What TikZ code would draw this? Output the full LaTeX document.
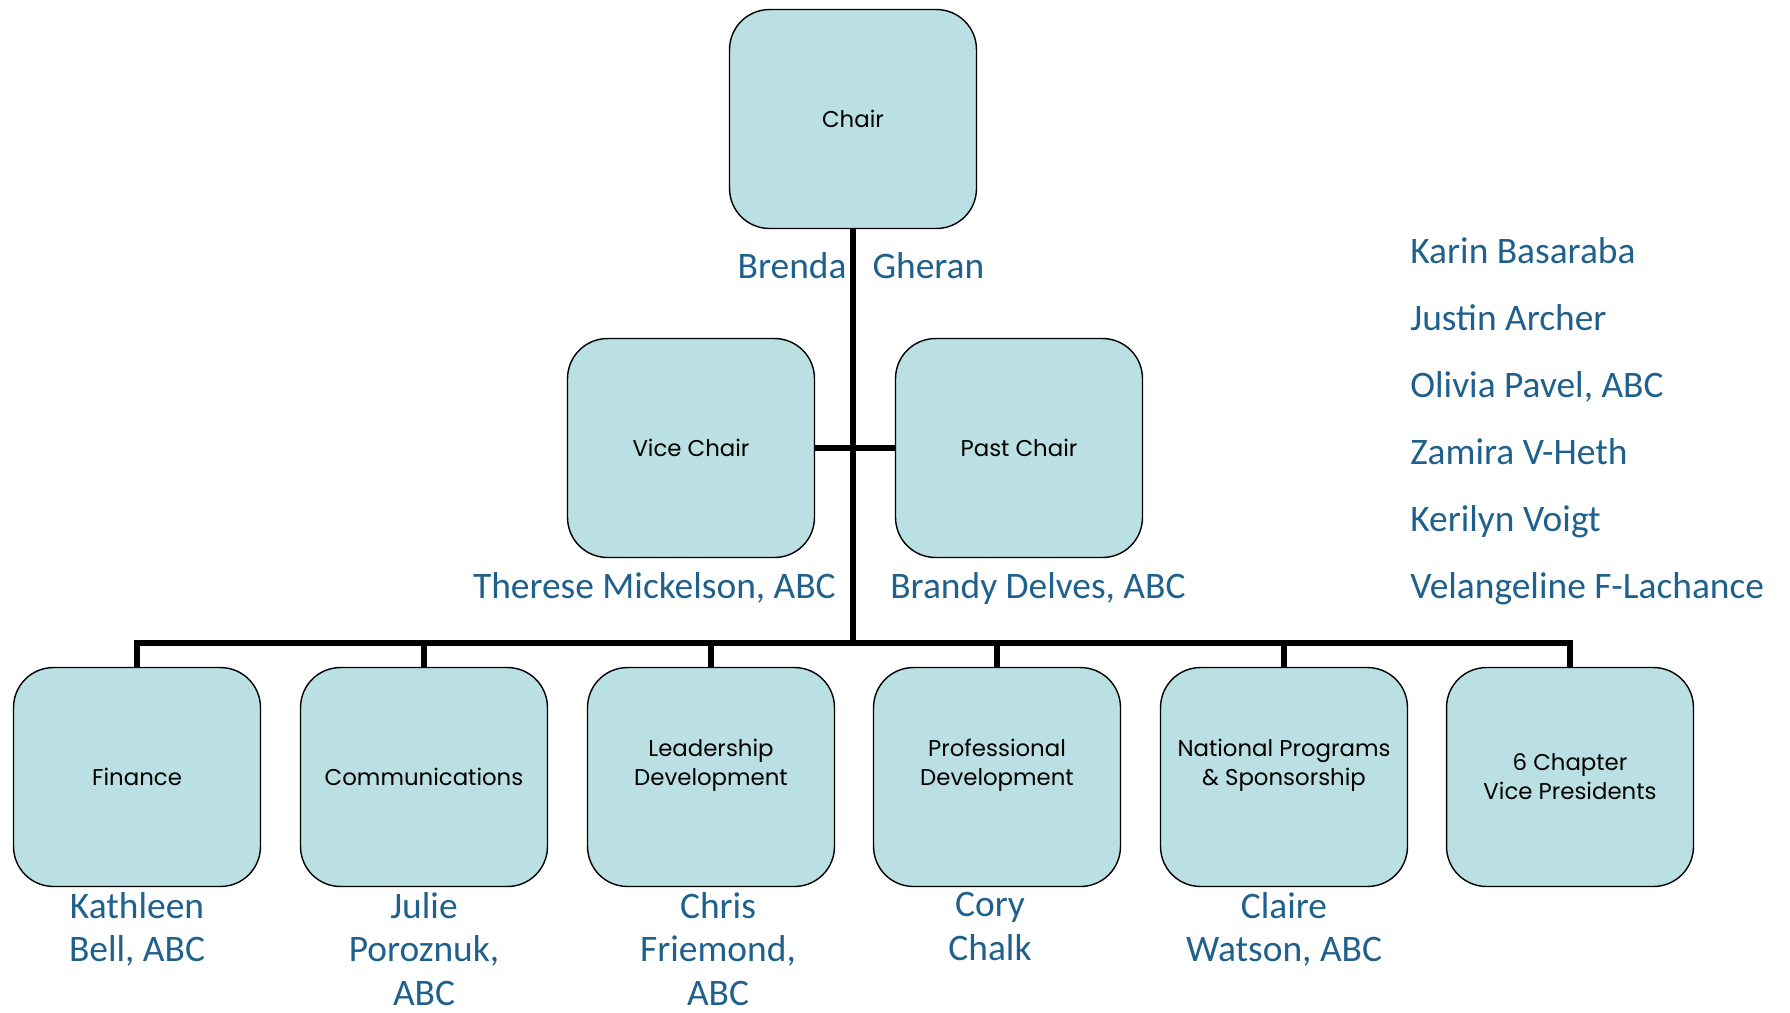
\documentclass[tikz,border=0pt]{standalone}
\usepackage{fontspec}
\setmainfont{Carlito}
\newfontfamily\boxfont{Poppins}
\usetikzlibrary{positioning}
\definecolor{boxfill}{RGB}{186,224,227}
\definecolor{namecol}{RGB}{31,96,140}

\tikzset{
  post/.style={draw=black, line width=0.8pt, fill=boxfill, rounded corners=0.8cm,
    minimum width=4.94cm, minimum height=4.38cm, align=center, inner sep=2pt,
    font=\boxfont\fontsize{13}{16.5}\selectfont},
  who/.style={text=namecol, align=center, inner sep=0pt,
    font=\fontsize{21.3}{25}\selectfont},
  tie/.style={line width=3pt},
}

\begin{document}
\begin{tikzpicture}[x=0.02cm, y=-0.02cm]
    \useasboundingbox (0,0) rectangle (1790,1012);

    \node[post](chair) at (853, 119) {Chair};
    \node[post](vice) at (691, 448) {Vice Chair};
    \node[post](past) at (1019, 448) {Past Chair};

    \node[post](fin) at (137, 777) {Finance};
    \node[post](comm) at (424, 777) {Communications};
    \node[post](lead) at (711, 777) {Leadership\\Development\\\mbox{}};
    \node[post](prof) at (997, 777) {Professional\\Development\\\mbox{}};
    \node[post](natl) at (1284, 777) {National Programs\\\& Sponsorship\\\mbox{}};
    \node[post](chap) at (1570, 777) {6 Chapter\\Vice Presidents};

    \coordinate (bus) at (853, 643);

    \draw[tie] (chair.south) -- (bus);
    \draw[tie] (vice) -- (past);

    \draw[tie] (bus) -| (fin.north);
    \draw[tie] (bus) -| (comm.north);
    \draw[tie] (bus) -| (lead.north);
    \draw[tie] (bus) -| (prof.north);
    \draw[tie] (bus) -| (natl.north);
    \draw[tie] (bus) -| (chap.north);

    \node[who, anchor=base](chairName) at (861, 278) {Brenda\hspace{0.52cm}Gheran};
    \node[who, anchor=base east](viceName) at (836, 598) {Therese Mickelson, ABC};
    \node[who, anchor=base west](pastName) at (890, 598) {Brandy Delves, ABC};

    \node[who, below=0.09cm of fin](finName) {Kathleen\\Bell, ABC};
    \node[who, below=0.09cm of comm](commName) {Julie\\Poroznuk,\\ABC};
    \node[who, below=0.09cm of lead, xshift=0.14cm](leadName) {Chris\\Friemond,\\ABC};
    \node[who, below=0.09cm of prof, xshift=-0.14cm](profName) {Cory\\Chalk};
    \node[who, below=0.09cm of natl](natlName) {Claire\\Watson, ABC};

    \node[who, anchor=base west](m1) at (1410, 263) {Karin Basaraba};
    \node[who, anchor=base west](m2) at (1410, 330) {Justin Archer};
    \node[who, anchor=base west](m3) at (1410, 397) {Olivia Pavel, ABC};
    \node[who, anchor=base west](m4) at (1410, 464) {Zamira V-Heth};
    \node[who, anchor=base west](m5) at (1410, 531) {Kerilyn Voigt};
    \node[who, anchor=base west](m6) at (1410, 598) {Velangeline F-Lachance};
\end{tikzpicture}
\end{document}
